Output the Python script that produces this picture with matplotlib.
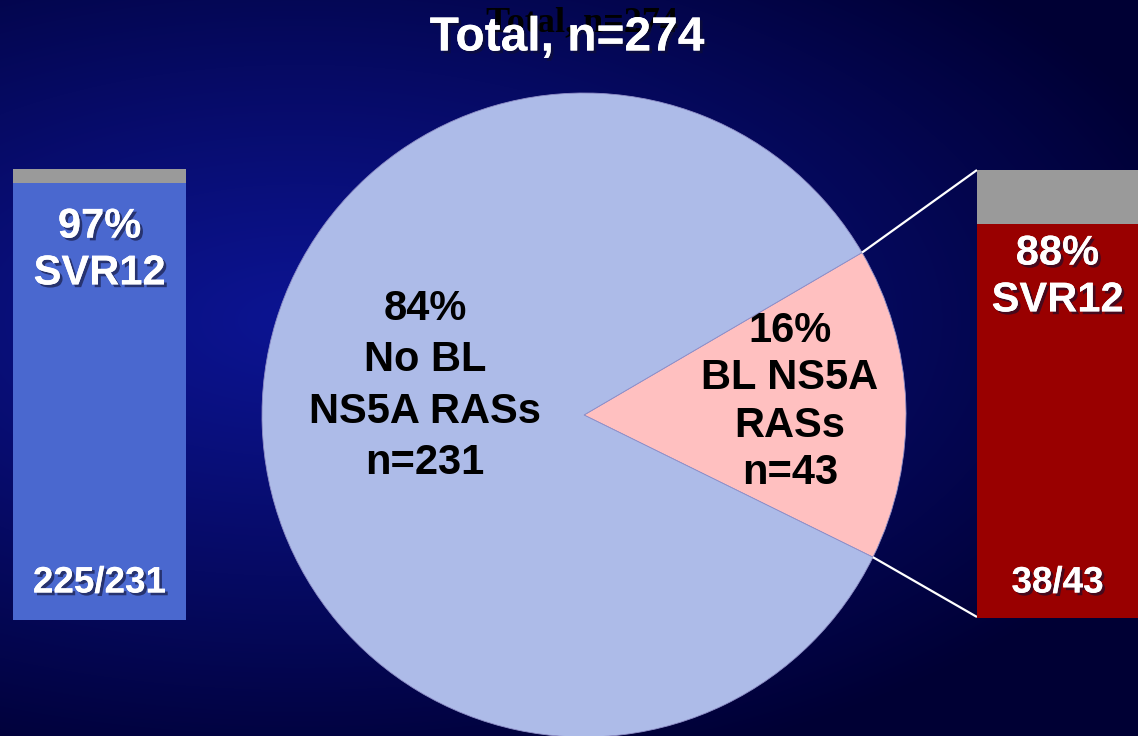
import numpy as np
import matplotlib
matplotlib.use("Agg")
import matplotlib.pyplot as plt
import matplotlib.patheffects as pe

# ---- data ----
title = "Total, n=274"
pie_counts = [43, 231]                 # BL NS5A RASs, no BL NS5A RASs
pie_colors = ["#ffc0c0", "#adbbe8"]
pie_labels = ["16%\nBL NS5A\nRASs\nn=43", "84%\nNo BL\nNS5A RASs\nn=231"]
svr_pct = [97, 88]                     # no RASs, RASs
svr_frac = ["225/231", "38/43"]
bar_colors = ["#4a68cf", "#990000"]
rest_color = "#9a9a9a"

W, H = 1138, 736
fig = plt.figure(figsize=(W / 100, H / 100), dpi=100)

# ---- background glow ----
bg = fig.add_axes([0, 0, 1, 1], zorder=0)
yy, xx = np.mgrid[0:H, 0:W]
d = np.sqrt(((xx - 300) / 950.0) ** 2 + ((yy - 320) / 480.0) ** 2)
t = np.clip(d, 0, 1) ** 1.1
c0 = np.array([0x0c, 0x14, 0x92]) / 255.0
c1 = np.array([0x00, 0x00, 0x34]) / 255.0
img = c0[None, None, :] * (1 - t[..., None]) + c1[None, None, :] * t[..., None]
bg.imshow(img, extent=[0, W, 0, H], origin="upper", aspect="auto")
bg.set_xlim(0, W)
bg.set_ylim(0, H)
bg.axis("off")

# ---- main drawing axes in pixel units (y up) ----
ax = fig.add_axes([0, 0, 1, 1], zorder=1)
ax.set_xlim(0, W)
ax.set_ylim(0, H)
ax.set_aspect("equal")
ax.axis("off")
ax.patch.set_alpha(0)

cx, cy, r = 584, H - 415, 322
start = -26.2
wedges, _ = ax.pie(pie_counts, colors=pie_colors, startangle=start,
                   counterclock=True, center=(cx, cy), radius=r,
                   wedgeprops=dict(linewidth=0.6, edgecolor="#8f8fc8"))
ax.set_xlim(0, W)
ax.set_ylim(0, H)

dark = "black"
ax.text(425, H - 386, pie_labels[1], ha="center", va="center", fontsize=30,
        fontweight="bold", color=dark, family="Liberation Sans", linespacing=1.37)
ax.text(790, H - 402, pie_labels[0], ha="center", va="center", fontsize=30,
        fontweight="bold", color=dark, family="Liberation Sans", linespacing=1.24)

# connector lines from the small wedge to the right bar
a1 = np.deg2rad(start + 360 * pie_counts[0] / sum(pie_counts))
a0 = np.deg2rad(start)
ax.plot([cx + r * np.cos(a1), 977], [cy + r * np.sin(a1), H - 170],
        color="white", lw=1.6, zorder=5, solid_capstyle="butt")
ax.plot([cx + r * np.cos(a0), 977], [cy + r * np.sin(a0), H - 617],
        color="white", lw=1.6, zorder=5, solid_capstyle="butt")

shadow = [pe.withSimplePatchShadow(offset=(2, -2), shadow_rgbFace="#101030", alpha=0.6),
          pe.Normal()]

# ghost title behind, then main title
fig.text(582 / W, 1 - 23 / H, title, ha="center", va="center", fontsize=26,
         fontweight="bold", color="black", family="Liberation Serif", zorder=2)
fig.text(567 / W, 1 - 38 / H, title, ha="center", va="center", fontsize=34.5,
         fontweight="bold", color="white", family="Liberation Sans",
         path_effects=shadow, zorder=3)


# ---- SVR bars ----
def svr_bar(x0, x1, ytop, ybot, pct, color, frac, ty):
    bax = fig.add_axes([x0 / W, 1 - ybot / H, (x1 - x0) / W, (ybot - ytop) / H], zorder=2)
    bax.bar([0], [pct], width=1.0, color=color, align="edge")
    bax.bar([0], [100 - pct], bottom=[pct], width=1.0, color=rest_color, align="edge")
    bax.set_xlim(0, 1)
    bax.set_ylim(0, 100)
    bax.axis("off")
    xc = 0.5 * (x0 + min(x1, W)) / W
    fig.text(xc, 1 - ty / H, f"{pct}%\nSVR12", ha="center", va="center",
             fontsize=30, fontweight="bold", color="white", family="Liberation Sans",
             linespacing=1.22, path_effects=shadow, zorder=4)
    fig.text(xc, 1 - 583 / H, frac, ha="center", va="center",
             fontsize=26.5, fontweight="bold", color="white", family="Liberation Sans",
             path_effects=shadow, zorder=4)


svr_bar(13, 186, 169, 620, svr_pct[0], bar_colors[0], svr_frac[0], 250)
svr_bar(977, 1150, 170, 618, svr_pct[1], bar_colors[1], svr_frac[1], 277)

fig.savefig("out.png", dpi=100)
